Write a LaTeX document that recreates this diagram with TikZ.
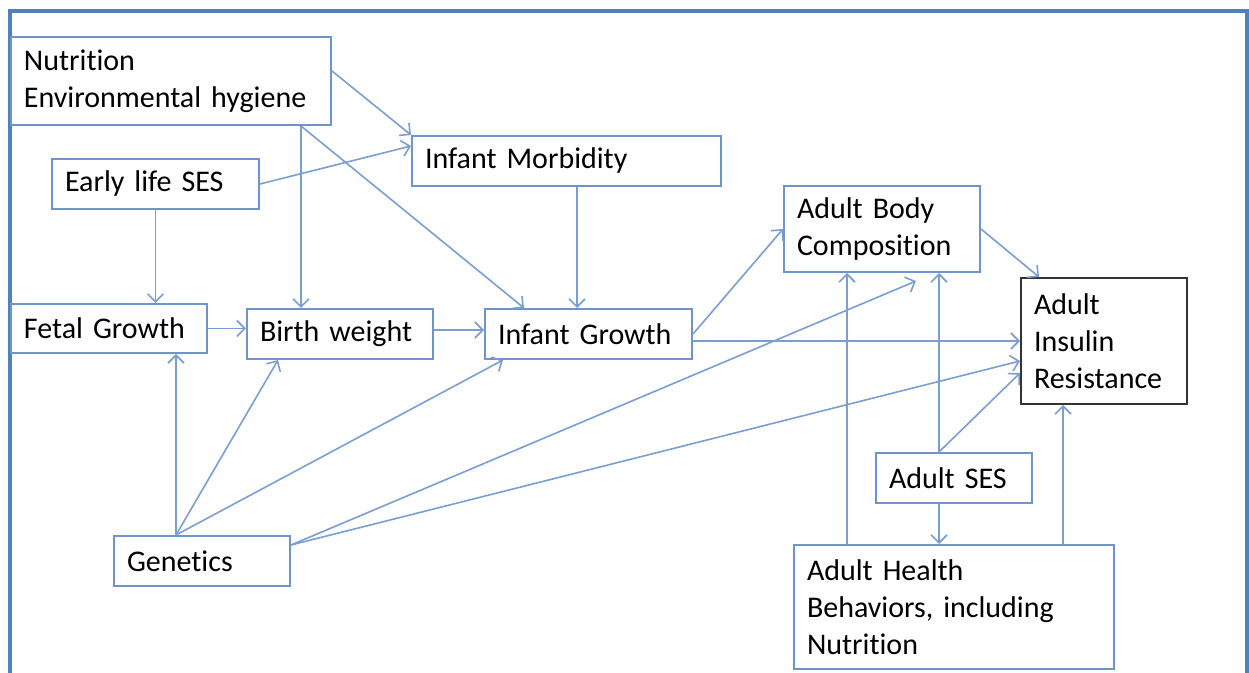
\documentclass[tikz,border=0pt]{standalone}
\usepackage{fontspec}
\setmainfont{Carlito}[Ligatures=NoCommon, WordSpace=0.75]
\usepackage{xcolor}
\usepackage{tikz}
\usetikzlibrary{arrows.meta}

\definecolor{frameblue}{RGB}{79,129,189}
\definecolor{boxblue}{RGB}{110,148,202}
\definecolor{lineblue}{RGB}{122,158,210}

\tikzset{
  box/.style={draw=boxblue, line width=1pt, fill=white, anchor=north west,
    inner xsep=6.5pt, inner ysep=0pt, align=left,
    font=\fontsize{15}{18.5}\selectfont},
  link/.style={->, draw=lineblue, line width=0.8pt},
}

\begin{document}
\begin{tikzpicture}[x=0.5pt, y=-0.5pt, >={Straight Barb[length=4pt,width=8pt]}]
    \useasboundingbox (0,0) rectangle (1249,673);

    % Outer frame (open at the bottom)
    \draw[frameblue, line width=2pt] (10,673) -- (10,11.5) -- (1246.5,11.5) -- (1246.5,673);

    % Early life boxes
    \node[box, text width=147pt, minimum height=44pt] (nutr) at (10,36) {Nutrition\\Environmental hygiene};
    \node[box, text width=90.5pt, minimum height=25pt] (els) at (51,158) {Early life SES};
    \node[box, text width=141.5pt, minimum height=25pt] (im) at (411,135) {Infant Morbidity};
    \node[box, text width=85pt, minimum height=24.5pt] (fg) at (10,303) {Fetal Growth};
    \node[box, text width=80pt, minimum height=25pt] (bw) at (246,308) {Birth weight};
    \node[box, text width=90.5pt, minimum height=25pt] (ig) at (484,308) {Infant Growth};
    \node[box, text width=75pt, minimum height=25pt] (gen) at (113,535) {Genetics};

    % Adult boxes
    \node[box, text width=85pt, minimum height=43pt] (abc) at (783,185) {Adult Body\\Composition};
    \node[box, draw=black!80, text width=70pt, minimum height=63pt] (air) at (1020,277) {Adult\\Insulin\\Resistance};
    \node[box, text width=65pt, minimum height=25pt] (as) at (875,452) {Adult SES};
    \node[box, text width=147pt, minimum height=62pt] (ahb) at (793,544) {Adult Health\\Behaviors, including\\Nutrition};

    % Start points of the straight drops
    \coordinate (nx) at ([xshift=65pt]nutr.south);
    \coordinate (imx) at ([xshift=5.25pt]im.south);
    \coordinate (gx) at ([xshift=-13pt]gen.north);
    \coordinate (gr) at ([yshift=-5pt]gen.north east);
    \coordinate (asx) at ([xshift=-7.5pt]as.north);
    \coordinate (asy) at ([xshift=-7.5pt]as.south);
    \coordinate (hl) at ([xshift=-53.5pt]ahb.north);
    \coordinate (hr) at ([xshift=54.5pt]ahb.north);

    % Early life links
    \draw[link] ([yshift=5pt]nutr.east) -- (im.north west);
    \draw[link] (nx) -- (nx |- bw.north);
    \draw[link] (nx) -- ([xshift=20pt]ig.north west);
    \draw[link] (els.east) -- ([yshift=7.5pt]im.west);
    \draw[link] (els.south) -- (els.south |- fg.north);
    \draw[link] (imx) -- (imx |- ig.north);
    \draw[link] (fg.east) -- (fg.east -| bw.west);
    \draw[link] ([yshift=2pt]bw.east) -- ([yshift=2pt]bw.east -| ig.west);

    % Genetics fan
    \draw[link] (gx) -- (gx |- fg.south);
    \draw[link] (gx) -- ([xshift=16pt]bw.south west);
    \draw[link] (gx) -- ([xshift=9.5pt]ig.south west);
    \draw[link] (gr) -- ([xshift=66.5pt,yshift=-4pt]abc.south west);
    \draw[link] (gr) -- ([yshift=-10pt]air.west);

    % Adult links
    \draw[link] (ig.east) -- (abc.west);
    \draw[link] (air.west -| ig.east) -- (air.west);
    \draw[link] (abc.east) -- ([xshift=9.5pt]air.north west);
    \draw[link] (asx) -- (asx |- abc.south);
    \draw[link] (asx) -- ([yshift=-16pt]air.west);
    \draw[link] (asy) -- (asy |- ahb.north);
    \draw[link] (hl) -- (hl |- abc.south);
    \draw[link] (hr) -- (hr |- air.south);
\end{tikzpicture}
\end{document}
